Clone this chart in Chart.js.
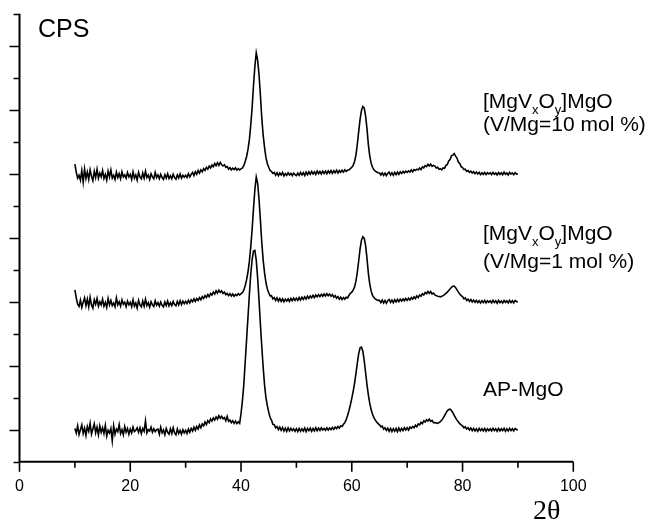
<!DOCTYPE html>
<html>
<head>
<meta charset="utf-8">
<script src="https://cdn.jsdelivr.net/npm/chart.js@4.4.0/dist/chart.umd.min.js"></script>
<style>
  body { margin: 0; background: #fff; }
  #wrap { width: 652px; height: 522px; }
</style>
</head>
<body>
<div id="wrap"><canvas id="myChart" width="652" height="522"></canvas></div>
<script>
// 2-theta sampling: 10 .. 90 deg, step 0.25 (one row below = 5 deg)
const angleStart = 10;
const angleStep = 0.25;

// [MgVxOy]MgO (V/Mg=10 mol %) - stacked at offset 9
const tenMol = [
  9.30, 9.05, 8.86, 8.95, 8.80, 9.10, 8.74, 9.15, 8.85, 9.05, 8.82, 9.12, 8.92, 8.78, 9.08, 8.88, 9.14, 8.86, 9.02, 8.90,
  9.10, 8.85, 8.98, 8.80, 9.08, 8.90, 9.12, 8.86, 8.95, 8.82, 9.05, 8.88, 9.00, 8.84, 9.06, 8.90, 8.96, 8.86, 9.04, 8.90,
  8.98, 8.82, 9.06, 8.86, 8.96, 8.80, 9.04, 8.90, 8.84, 9.02, 8.86, 9.08, 8.88, 8.96, 8.82, 9.00, 8.90, 8.84, 9.04, 8.88,
  8.96, 8.84, 8.98, 8.88, 8.82, 8.97, 8.86, 9.00, 8.85, 8.94, 8.84, 8.98, 8.88, 8.83, 8.96, 8.87, 8.99, 8.86, 8.95, 8.89,
  8.95, 8.88, 9.00, 8.90, 8.98, 9.04, 8.94, 9.06, 8.98, 9.10, 9.02, 9.12, 9.06, 9.16, 9.10, 9.20, 9.14, 9.24, 9.18, 9.27,
  9.22, 9.32, 9.25, 9.34, 9.26, 9.35, 9.28, 9.24, 9.28, 9.20, 9.22, 9.14, 9.19, 9.12, 9.17, 9.13, 9.18, 9.11, 9.16, 9.12,
  9.15, 9.18, 9.25, 9.38, 9.53, 9.75, 10.05, 10.5, 11.05, 11.75, 12.35, 12.78, 12.55, 12.1, 11.45, 10.75, 10.2, 9.82, 9.50, 9.32,
  9.20, 9.10, 9.07, 9.01, 9.04, 8.95, 9.03, 8.94, 9.02, 8.96, 9.04, 8.93, 9.00, 8.95, 9.03, 8.96, 9.01, 8.94, 9.02, 8.97,
  8.94, 9.02, 8.95, 9.04, 8.96, 9.03, 8.94, 9.05, 8.97, 9.06, 8.98, 9.07, 8.99, 9.06, 8.98, 9.08, 9.00, 9.07, 8.99, 9.08,
  9.01, 9.08, 9.00, 9.09, 9.02, 9.10, 9.01, 9.09, 9.03, 9.11, 9.02, 9.10, 9.04, 9.11, 9.05, 9.12, 9.07, 9.11, 9.12, 9.16,
  9.20, 9.26, 9.38, 9.58, 9.92, 10.32, 10.70, 10.98, 11.10, 11.05, 10.80, 10.40, 9.90, 9.55, 9.33, 9.20, 9.12, 9.08, 9.05, 9.03,
  9.02, 8.96, 9.03, 8.95, 9.02, 8.94, 9.01, 9.05, 8.96, 9.03, 8.95, 9.04, 8.97, 9.05, 8.98, 9.06, 9.01, 9.07, 9.02, 9.08,
  9.04, 9.09, 9.05, 9.12, 9.06, 9.13, 9.10, 9.14, 9.12, 9.18, 9.13, 9.21, 9.18, 9.25, 9.22, 9.29, 9.24, 9.30, 9.23, 9.26,
  9.24, 9.18, 9.20, 9.14, 9.16, 9.12, 9.18, 9.17, 9.26, 9.29, 9.40, 9.44, 9.56, 9.58, 9.63, 9.55, 9.49, 9.36, 9.32, 9.22,
  9.19, 9.13, 9.14, 9.07, 9.10, 9.04, 9.08, 9.02, 9.06, 9.00, 9.05, 8.99, 9.04, 8.97, 9.03, 8.98, 9.04, 8.97, 9.03, 8.99,
  9.03, 8.97, 9.04, 8.98, 9.02, 8.96, 9.04, 8.98, 9.03, 8.97, 9.05, 8.98, 9.02, 8.96, 9.04, 8.99, 9.02, 8.97, 9.03, 8.99,
  9.00
];

// [MgVxOy]MgO (V/Mg=1 mol %) - stacked at offset 5
const oneMol = [
  5.37, 5.12, 4.92, 4.85, 5.05, 4.82, 4.98, 5.12, 4.88, 5.08, 4.84, 5.14, 4.90, 4.80, 5.06, 4.92, 5.10, 4.86, 5.00, 4.90,
  5.08, 4.86, 4.98, 4.82, 5.10, 4.90, 5.04, 4.88, 4.96, 4.84, 5.12, 4.90, 5.00, 4.86, 5.06, 4.92, 4.98, 4.84, 5.02, 4.90,
  4.98, 4.84, 5.06, 4.86, 4.96, 4.80, 5.04, 4.90, 4.84, 5.02, 4.86, 5.08, 4.88, 4.97, 4.83, 5.00, 4.90, 4.85, 5.03, 4.89,
  4.97, 4.86, 4.99, 4.89, 4.84, 4.99, 4.88, 5.02, 4.87, 4.97, 4.88, 5.01, 4.91, 4.87, 5.01, 4.90, 5.03, 4.91, 5.02, 4.94,
  5.01, 4.94, 5.04, 4.96, 5.06, 5.00, 5.09, 5.01, 5.10, 5.04, 5.13, 5.06, 5.16, 5.10, 5.19, 5.13, 5.22, 5.16, 5.26, 5.21,
  5.30, 5.24, 5.34, 5.27, 5.36, 5.29, 5.34, 5.26, 5.30, 5.22, 5.26, 5.19, 5.25, 5.18, 5.24, 5.17, 5.23, 5.19, 5.25, 5.21,
  5.25, 5.28, 5.36, 5.50, 5.68, 5.92, 6.25, 6.70, 7.25, 7.90, 8.50, 8.90, 8.70, 8.20, 7.55, 6.85, 6.30, 5.90, 5.60, 5.40,
  5.28, 5.18, 5.19, 5.09, 5.13, 5.04, 5.12, 5.02, 5.10, 5.01, 5.09, 5.00, 5.08, 5.02, 5.09, 5.01, 5.10, 5.03, 5.11, 5.04,
  5.11, 5.04, 5.13, 5.05, 5.14, 5.07, 5.15, 5.08, 5.17, 5.10, 5.18, 5.12, 5.20, 5.13, 5.21, 5.15, 5.22, 5.16, 5.23, 5.17,
  5.24, 5.18, 5.25, 5.19, 5.24, 5.17, 5.22, 5.14, 5.19, 5.11, 5.16, 5.08, 5.14, 5.07, 5.13, 5.08, 5.14, 5.12, 5.20, 5.26,
  5.30, 5.36, 5.46, 5.64, 5.92, 6.28, 6.65, 6.92, 7.03, 6.98, 6.75, 6.35, 5.88, 5.55, 5.33, 5.20, 5.13, 5.09, 5.06, 5.04,
  5.04, 4.97, 5.05, 4.96, 5.04, 4.95, 5.03, 5.07, 4.98, 5.05, 4.97, 5.06, 4.99, 5.07, 5.00, 5.08, 5.02, 5.09, 5.03, 5.10,
  5.04, 5.11, 5.05, 5.13, 5.08, 5.15, 5.10, 5.18, 5.13, 5.21, 5.17, 5.25, 5.21, 5.29, 5.25, 5.32, 5.26, 5.32, 5.24, 5.27,
  5.21, 5.19, 5.17, 5.16, 5.15, 5.17, 5.19, 5.22, 5.26, 5.30, 5.35, 5.40, 5.45, 5.48, 5.49, 5.44, 5.37, 5.30, 5.24, 5.19,
  5.16, 5.09, 5.12, 5.04, 5.08, 5.01, 5.07, 4.99, 5.05, 4.98, 5.04, 4.97, 5.03, 4.96, 5.03, 4.97, 5.04, 4.96, 5.03, 4.98,
  5.03, 4.96, 5.04, 4.97, 5.03, 4.95, 5.04, 4.97, 5.02, 4.96, 5.04, 4.98, 5.03, 4.96, 5.04, 4.97, 5.03, 4.96, 5.04, 5.00,
  5.00
];

// AP-MgO - stacked at offset 1
const apMgO = [
  1.04, 0.90, 1.12, 0.85, 1.00, 1.15, 0.88, 1.05, 0.82, 1.10, 0.95, 1.20, 0.86, 1.02, 1.18, 0.90, 1.08, 0.84, 1.12, 0.92,
  1.06, 0.88, 1.14, 0.80, 0.98, 0.90, 1.04, 0.65, 1.12, 0.86, 1.02, 0.94, 1.16, 0.88, 1.00, 0.84, 1.10, 0.92, 1.04, 0.86,
  1.02, 0.90, 1.08, 0.94, 0.98, 1.06, 0.92, 1.06, 0.88, 1.04, 0.95, 1.28, 0.90, 1.00, 0.96, 1.08, 0.92, 1.03, 0.94, 1.00,
  1.02, 0.86, 1.08, 0.90, 0.99, 0.84, 1.04, 0.92, 0.86, 1.03, 0.88, 1.06, 0.90, 0.84, 1.02, 0.88, 0.98, 0.86, 1.00, 0.90,
  0.98, 0.88, 1.02, 0.92, 1.04, 0.96, 1.08, 0.98, 1.10, 1.02, 1.15, 1.06, 1.18, 1.12, 1.24, 1.16, 1.28, 1.22, 1.34, 1.27,
  1.37, 1.30, 1.40, 1.33, 1.44, 1.36, 1.42, 1.34, 1.38, 1.28, 1.42, 1.26, 1.30, 1.22, 1.28, 1.20, 1.27, 1.19, 1.25, 1.20,
  1.50, 1.90, 2.40, 3.10, 3.80, 4.50, 5.20, 5.85, 6.30, 6.58, 6.60, 6.30, 5.75, 5.05, 4.30, 3.60, 2.95, 2.40, 2.00, 1.75,
  1.55, 1.38, 1.30, 1.17, 1.16, 1.06, 1.10, 1.00, 1.08, 0.98, 1.07, 0.96, 1.05, 0.95, 1.06, 0.96, 1.04, 0.97, 1.03, 0.95,
  1.03, 0.94, 1.04, 0.95, 1.03, 0.96, 1.05, 0.94, 1.04, 0.97, 1.05, 0.95, 1.04, 0.96, 1.06, 0.97, 1.05, 0.98, 1.06, 0.99,
  1.04, 0.98, 1.06, 0.99, 1.05, 1.00, 1.07, 1.01, 1.08, 1.03, 1.10, 1.05, 1.12, 1.10, 1.17, 1.22, 1.32, 1.45, 1.60, 1.78,
  1.98, 2.20, 2.45, 2.75, 3.08, 3.38, 3.56, 3.58, 3.45, 3.15, 2.78, 2.40, 2.08, 1.82, 1.62, 1.48, 1.38, 1.30, 1.24, 1.19,
  1.15, 1.09, 1.11, 1.02, 1.06, 0.98, 1.05, 0.95, 1.04, 0.94, 1.03, 0.95, 1.04, 0.94, 1.05, 0.96, 1.04, 0.97, 1.06, 0.99,
  1.06, 0.99, 1.08, 1.04, 1.10, 1.06, 1.14, 1.09, 1.18, 1.15, 1.23, 1.19, 1.28, 1.24, 1.31, 1.27, 1.33, 1.26, 1.29, 1.22,
  1.22, 1.21, 1.20, 1.22, 1.25, 1.30, 1.36, 1.44, 1.52, 1.59, 1.63, 1.64, 1.60, 1.53, 1.45, 1.37, 1.30, 1.24, 1.19, 1.15,
  1.12, 1.06, 1.09, 1.02, 1.06, 0.99, 1.05, 0.97, 1.04, 0.96, 1.03, 0.95, 1.04, 0.97, 1.03, 0.96, 1.04, 0.95, 1.03, 0.97,
  1.03, 0.96, 1.04, 0.97, 1.03, 0.95, 1.04, 0.96, 1.03, 0.97, 1.04, 0.95, 1.03, 0.96, 1.04, 0.97, 1.03, 0.96, 1.04, 1.00,
  1.00
];

const xTickLabels = [0, 20, 40, 60, 80, 100];
const xMinorTicks = [10, 30, 50, 70, 90];
const yMajorTicks = [1, 3, 5, 7, 9, 11, 13];
const yMinorTicks = [0, 2, 4, 6, 8, 10, 12, 14];

function toPoints(vals) {
  return vals.map((v, i) => ({ x: angleStart + i * angleStep, y: v }));
}

const SANS = "'Liberation Sans', Arial, sans-serif";

// axes, ticks and the text labels
const axesPlugin = {
  id: "axesPlugin",
  afterDraw(chart) {
    const ctx = chart.ctx;
    const xs = chart.scales.x;
    const ys = chart.scales.y;
    const x0 = xs.getPixelForValue(0);
    const y0 = ys.getPixelForValue(0);
    ctx.save();
    ctx.strokeStyle = "#000";
    ctx.fillStyle = "#000";
    ctx.lineWidth = 2;

    ctx.beginPath();
    ctx.moveTo(x0, ys.getPixelForValue(14));
    ctx.lineTo(x0, y0);
    ctx.lineTo(xs.getPixelForValue(100), y0);
    ctx.stroke();

    ctx.lineWidth = 1.6;
    ctx.beginPath();
    yMajorTicks.forEach((v) => {
      const p = Math.round(ys.getPixelForValue(v)) + 0.5;
      ctx.moveTo(x0 - 10, p);
      ctx.lineTo(x0, p);
    });
    yMinorTicks.forEach((v) => {
      const p = Math.round(ys.getPixelForValue(v)) + 0.5;
      ctx.moveTo(x0 - 6, p);
      ctx.lineTo(x0, p);
    });
    xTickLabels.forEach((v) => {
      const p = xs.getPixelForValue(v);
      ctx.moveTo(p, y0);
      ctx.lineTo(p, y0 + 10);
    });
    xMinorTicks.forEach((v) => {
      const p = xs.getPixelForValue(v);
      ctx.moveTo(p, y0);
      ctx.lineTo(p, y0 + 6);
    });
    ctx.stroke();

    ctx.font = "16px " + SANS;
    ctx.textAlign = "center";
    ctx.textBaseline = "alphabetic";
    xTickLabels.forEach((v) => {
      ctx.fillText(String(v), xs.getPixelForValue(v), y0 + 29);
    });

    ctx.textAlign = "left";
    ctx.font = "25px " + SANS;
    ctx.fillText("CPS", 38, 37);

    ctx.font = "28px 'Liberation Serif', 'Times New Roman', serif";
    ctx.fillText("2\u03b8", 533, 519);

    function formula(x, y) {
      ctx.font = "21px " + SANS;
      ctx.fillText("[MgV", x, y);
      let cx = x + ctx.measureText("[MgV").width;
      ctx.font = "13px " + SANS;
      ctx.fillText("x", cx, y + 6);
      cx += ctx.measureText("x").width;
      ctx.font = "21px " + SANS;
      ctx.fillText("O", cx, y);
      cx += ctx.measureText("O").width;
      ctx.font = "13px " + SANS;
      ctx.fillText("y", cx, y + 6);
      cx += ctx.measureText("y").width;
      ctx.font = "21px " + SANS;
      ctx.fillText("]MgO", cx, y);
    }
    formula(483, 108);
    ctx.font = "21px " + SANS;
    ctx.fillText("(V/Mg=10 mol %)", 483, 131);
    formula(483, 240);
    ctx.font = "21px " + SANS;
    ctx.fillText("(V/Mg=1 mol %)", 483, 268);
    ctx.fillText("AP-MgO", 483, 396);
    ctx.restore();
  },
};

const lineStyle = {
  borderColor: "#000",
  borderWidth: 1.6,
  pointRadius: 0,
  tension: 0,
  fill: false,
};

new Chart(document.getElementById("myChart"), {
  type: "scatter",
  data: {
    datasets: [
      { label: "[MgVxOy]MgO (V/Mg=10 mol %)", data: toPoints(tenMol), showLine: true, ...lineStyle },
      { label: "[MgVxOy]MgO (V/Mg=1 mol %)", data: toPoints(oneMol), showLine: true, ...lineStyle },
      { label: "AP-MgO", data: toPoints(apMgO), showLine: true, ...lineStyle },
    ],
  },
  options: {
    responsive: false,
    animation: false,
    devicePixelRatio: 1,
    layout: { padding: { left: 19.5, right: 78.7, top: 13.7, bottom: 60.3 } },
    plugins: { legend: { display: false }, tooltip: { enabled: false } },
    scales: {
      x: { type: "linear", min: 0, max: 100, display: false },
      y: { type: "linear", min: 0, max: 14, display: false },
    },
  },
  plugins: [axesPlugin],
});
</script>
</body>
</html>
